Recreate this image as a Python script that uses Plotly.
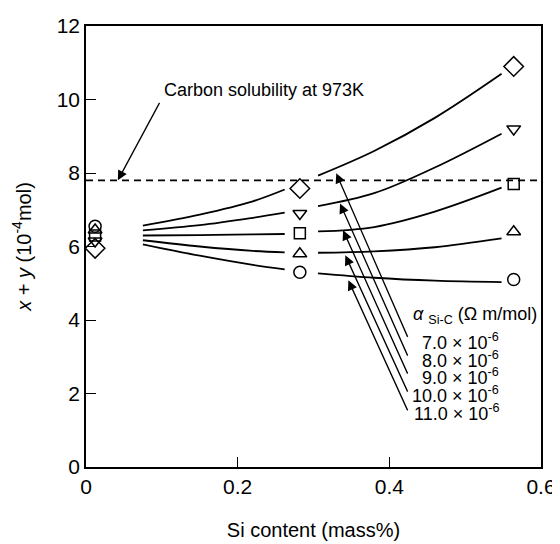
import plotly.graph_objects as go

FONT = "Liberation Sans, Arial, Helvetica, sans-serif"

# ---- data ----
si_content = [0.012, 0.282, 0.564]          # measured points (mass%)
xy_circle = [6.55, 5.30, 5.10]              # alpha = 11.0e-6
xy_triangle_up = [6.45, 5.80, 6.40]         # alpha = 10.0e-6
xy_square = [6.30, 6.36, 7.70]              # alpha = 9.0e-6
xy_triangle_down = [6.15, 6.90, 9.20]       # alpha = 8.0e-6
xy_diamond = [5.95, 7.58, 10.90]            # alpha = 7.0e-6

curve_x = [0.075, 0.15, 0.22, 0.262, None, 0.306, 0.38, 0.46, 0.548]
curve_a7 = [6.57, 6.87, 7.23, 7.55, None, 7.93, 8.60, 9.50, 10.70]
curve_a8 = [6.44, 6.58, 6.78, 6.92, None, 7.10, 7.45, 8.15, 9.07]
curve_a9 = [6.30, 6.31, 6.33, 6.34, None, 6.41, 6.53, 6.95, 7.60]
curve_a10 = [6.17, 6.00, 5.88, 5.84, None, 5.83, 5.87, 5.98, 6.22]
curve_a11 = [6.06, 5.75, 5.50, 5.38, None, 5.27, 5.15, 5.07, 5.03]

carbon_solubility = 7.8
solubility_x = [0.0, 0.6]

alpha_labels = ["7.0", "8.0", "9.0", "10.0", "11.0"]
x_ticks = [0, 0.2, 0.4, 0.6]
x_tick_text = ["0", "0.2", "0.4", "0.6"]
y_ticks = [0, 2, 4, 6, 8, 10, 12]

fig = go.Figure()

# model curves
for cy in [curve_a7, curve_a8, curve_a9, curve_a10, curve_a11]:
    fig.add_trace(go.Scatter(x=curve_x, y=cy, mode="lines",
                             line=dict(color="black", width=1.8, shape="spline"),
                             connectgaps=False, showlegend=False, hoverinfo="skip"))

# carbon solubility line
fig.add_trace(go.Scatter(x=solubility_x, y=[carbon_solubility] * 2, mode="lines",
                         line=dict(color="black", width=1.6, dash="7px,5px"),
                         showlegend=False, hoverinfo="skip"))

# measured markers
markers = [
    (xy_circle, "circle-open", 12),
    (xy_triangle_up, "triangle-up-open", 12),
    (xy_square, "square-open", 11),
    (xy_triangle_down, "triangle-down-open", 12),
    (xy_diamond, "diamond-open", 15),
]
for ys, sym, sz in markers:
    fig.add_trace(go.Scatter(x=si_content, y=ys, mode="markers",
                             marker=dict(symbol=sym, size=sz, color="black",
                                         line=dict(color="black", width=1.5)),
                             showlegend=False, cliponaxis=False))

annotations = []
# Carbon solubility label with arrow
annotations.append(dict(x=0.042, y=carbon_solubility, xref="x", yref="y",
                        ax=0.098, ay=9.95, axref="x", ayref="y",
                        showarrow=True, arrowhead=2, arrowsize=1.5, arrowwidth=1.3,
                        arrowcolor="black", text=""))
annotations.append(dict(x=0.100, y=10.25, xref="x", yref="y", xanchor="left",
                        yanchor="middle", showarrow=False,
                        text="Carbon solubility at 973K",
                        font=dict(family=FONT, size=18, color="black")))

# alpha legend title
annotations.append(dict(x=0.598, y=4.13, xref="x", yref="y", xanchor="right",
                        yanchor="middle", showarrow=False,
                        text="<i>α</i> <sub>Si-C</sub> (Ω m/mol)",
                        font=dict(family=FONT, size=18, color="black")))

text_y = [3.42, 2.93, 2.45, 1.98, 1.49]
tail_y = [3.50, 2.99, 2.50, 2.01, 1.50]
head_pts = [(0.330, 7.99), (0.335, 7.17), (0.339, 6.44), (0.342, 5.76), (0.346, 5.08)]
for lab, ty, tly, (hx, hy) in zip(alpha_labels, text_y, tail_y, head_pts):
    annotations.append(dict(x=0.547, y=ty, xref="x", yref="y", xanchor="right",
                            yanchor="middle", showarrow=False,
                            text=f"{lab} × 10<sup>-6</sup>",
                            font=dict(family=FONT, size=18, color="black")))
    annotations.append(dict(x=hx, y=hy, xref="x", yref="y",
                            ax=0.425, ay=tly, axref="x", ayref="y",
                            showarrow=True, arrowhead=2, arrowsize=1.5, arrowwidth=1.3,
                            arrowcolor="black", text=""))

fig.update_layout(
    width=552, height=536,
    margin=dict(l=78, r=19, t=18, b=77),
    paper_bgcolor="white", plot_bgcolor="white",
    font=dict(family=FONT, size=21, color="black"),
    annotations=annotations,
    xaxis=dict(range=[0, 0.6], tickvals=x_ticks, ticktext=x_tick_text,
               ticks="inside", ticklen=10, tickwidth=1, tickcolor="black",
               showline=True, linecolor="black", linewidth=1.5, mirror=True,
               showgrid=False, zeroline=False, automargin=False,
               tickfont=dict(family=FONT, size=21),
               title=dict(text="Si content (mass%)", font=dict(family=FONT, size=20),
                          standoff=26)),
    yaxis=dict(range=[0, 12], tickvals=y_ticks,
               ticks="inside", ticklen=10, tickwidth=1, tickcolor="black",
               showline=True, linecolor="black", linewidth=1.5, mirror=True,
               showgrid=False, zeroline=False, automargin=False,
               tickfont=dict(family=FONT, size=21),
               title=dict(text="<i>x</i> + <i>y</i> (10<sup>-4</sup>mol)",
                          font=dict(family=FONT, size=20), standoff=20)),
)

fig.write_html("out.html")
